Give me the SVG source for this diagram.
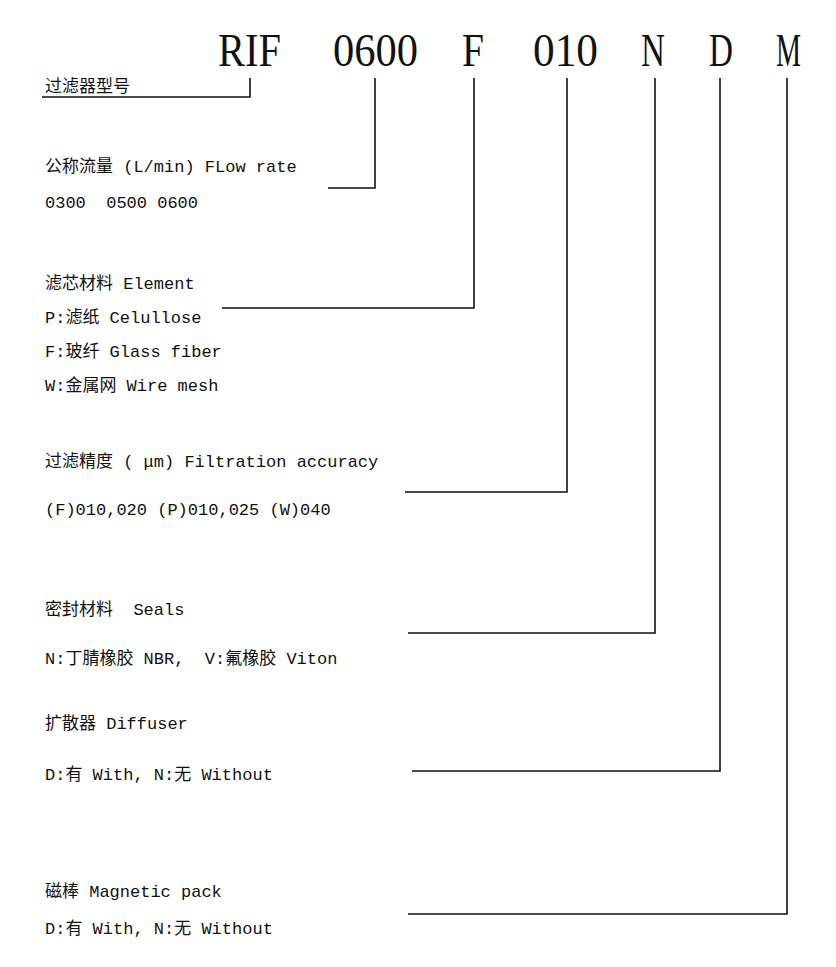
<svg xmlns="http://www.w3.org/2000/svg" width="836" height="967" viewBox="0 0 836 967">
<style>
.h{font-family:"Liberation Serif","Noto Sans CJK SC",serif;font-size:46px;fill:#111}
.t{font-family:"Liberation Mono","Noto Sans CJK SC",monospace;font-size:17px;fill:#111;white-space:pre}
.c line,.c polyline{stroke:#111;stroke-width:1.6;fill:none}
</style>
<rect width="836" height="967" fill="#fff"/>
<g id="code">
<text class="h" x="218" y="66" textLength="63" lengthAdjust="spacingAndGlyphs">RIF</text>
<text class="h" x="333" y="66" textLength="85" lengthAdjust="spacingAndGlyphs">0600</text>
<text class="h" x="462" y="66" textLength="22" lengthAdjust="spacingAndGlyphs">F</text>
<text class="h" x="533" y="66" textLength="65" lengthAdjust="spacingAndGlyphs">010</text>
<text class="h" x="641" y="66" textLength="24" lengthAdjust="spacingAndGlyphs">N</text>
<text class="h" x="709" y="66" textLength="24" lengthAdjust="spacingAndGlyphs">D</text>
<text class="h" x="776" y="66" textLength="25" lengthAdjust="spacingAndGlyphs">M</text>
</g>
<g id="type"><text class="t" x="45" y="92">过滤器型号</text></g>
<g id="flow"><text class="t" x="45" y="172">公称流量 (L/min) FLow rate</text><text class="t" x="45" y="208" xml:space="preserve">0300  0500 0600</text></g>
<g id="element"><text class="t" x="45" y="289">滤芯材料 Element</text><text class="t" x="45" y="323">P:滤纸 Celullose</text><text class="t" x="45" y="357">F:玻纤 Glass fiber</text><text class="t" x="45" y="391">W:金属网 Wire mesh</text></g>
<g id="accuracy"><text class="t" x="45" y="467">过滤精度 ( μm) Filtration accuracy</text><text class="t" x="45" y="515">(F)010,020 (P)010,025 (W)040</text></g>
<g id="seals"><text class="t" x="45" y="615" xml:space="preserve">密封材料  Seals</text><text class="t" x="45" y="664" xml:space="preserve">N:丁腈橡胶 NBR,  V:氟橡胶 Viton</text></g>
<g id="diffuser"><text class="t" x="45" y="729">扩散器 Diffuser</text><text class="t" x="45" y="780">D:有 With, N:无 Without</text></g>
<g id="magnet"><text class="t" x="45" y="897">磁棒 Magnetic pack</text><text class="t" x="45" y="934">D:有 With, N:无 Without</text></g>
<g class="c" id="connectors">
<polyline points="42,97 250,97 250,78"/>
<polyline points="328,188 375,188 375,78"/>
<polyline points="222,308 474,308 474,78"/>
<polyline points="405,492 567,492 567,78"/>
<polyline points="408,633 655,633 655,78"/>
<polyline points="412,771 720,771 720,78"/>
<polyline points="408,914 787,914 787,78"/>
</g>
</svg>
